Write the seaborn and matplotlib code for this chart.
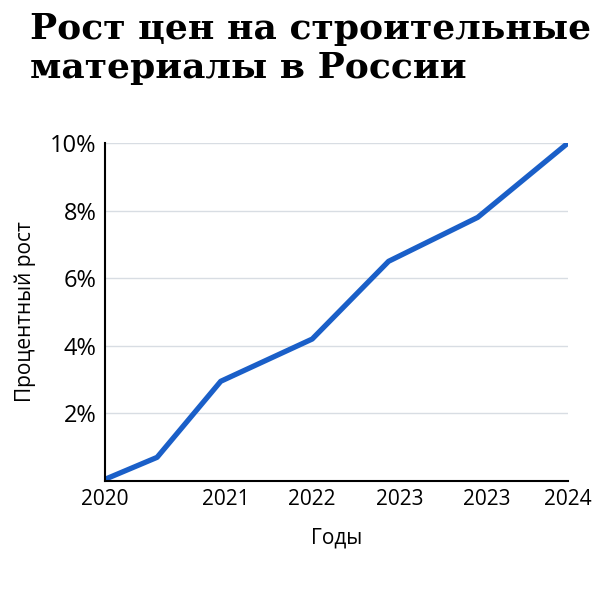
import matplotlib
matplotlib.use("Agg")
import matplotlib.pyplot as plt
import seaborn as sns
import pandas as pd

# chart values
x_pos = [0, 0.45, 1.0, 1.79, 2.45, 3.22, 4.0]
growth = [0.05, 0.7, 2.95, 4.2, 6.5, 7.8, 10.0]
tick_pos = [0, 1.04, 1.79, 2.55, 3.3, 4.0]
tick_labels = ["2020", "2021", "2022", "2023", "2023", "2024"]
y_ticks = [2, 4, 6, 8, 10]

df = pd.DataFrame({"x": x_pos, "growth": growth})

sns.set_theme(style="white")
plt.rcParams['font.family'] = ['Open Sans', 'DejaVu Sans']
plt.rcParams['text.color'] = 'black'
plt.rcParams['axes.labelcolor'] = 'black'
plt.rcParams['xtick.color'] = 'black'
plt.rcParams['ytick.color'] = 'black'

fig = plt.figure(figsize=(6, 6), dpi=100)
ax = fig.add_axes([105 / 600, 1 - 481 / 600, 463 / 600, 338 / 600])

ax.yaxis.grid(True, color="#d8dde3", linewidth=1)
ax.set_axisbelow(True)
sns.lineplot(data=df, x="x", y="growth", ax=ax, color="#1a5fc8", linewidth=3.8)

ax.set_xlim(0, 4.0)
ax.set_ylim(0, 10)
ax.set_xticks(tick_pos)
ax.set_xticklabels(tick_labels, fontsize=15, fontweight="medium")
ax.set_yticks(y_ticks)
ax.set_yticklabels([f"{v}%" for v in y_ticks], fontsize=17, fontweight="medium")
ax.tick_params(axis="both", length=0, pad=6)
for s in ["top", "right"]:
    ax.spines[s].set_visible(False)
for s in ["left", "bottom"]:
    ax.spines[s].set_color("black")
    ax.spines[s].set_linewidth(1.5)
ax.set_xlabel("Годы", fontsize=15, fontweight="medium", labelpad=12)
ax.set_ylabel("Процентный рост", fontsize=15, fontweight="medium", labelpad=10)

fig.text(30 / 600, 1 - 12 / 600, "Рост цен на строительные\nматериалы в России",
         family=['DejaVu Serif'], fontweight="bold",
         fontsize=26, va="top", ha="left", linespacing=1.2)

fig.savefig("out.png", dpi=100)
